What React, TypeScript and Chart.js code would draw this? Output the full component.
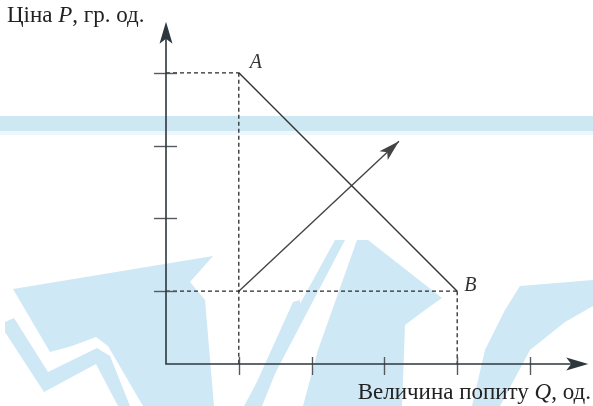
import React, { useEffect, useRef } from "react";
import { Chart, registerables } from "chart.js";

Chart.register(...registerables);

// ---- data ----
const xTicks = [1, 2, 3, 4, 5];
const yTicks = [1, 2, 3, 4];
const xAxisMax = 5.8;
const yAxisMax = 4.7;
const demandLine = [
  { x: 1, y: 4 },
  { x: 4, y: 1 },
];
const guideA_h = [
  { x: 0, y: 4 },
  { x: 1, y: 4 },
];
const guideA_v = [
  { x: 1, y: 4 },
  { x: 1, y: 0 },
];
const guideB_h = [
  { x: 0, y: 1 },
  { x: 4, y: 1 },
];
const guideB_v = [
  { x: 4, y: 1 },
  { x: 4, y: 0 },
];
const shiftArrow = [
  { x: 1, y: 1 },
  { x: 3.2, y: 3.06 },
];
const pointLabels = [
  { text: "A", x: 1, y: 4 },
  { text: "B", x: 4, y: 1 },
];
const yTitleParts: [string, boolean][] = [
  ["Ціна ", false],
  ["P", true],
  [", гр. од.", false],
];
const xTitleParts: [string, boolean][] = [
  ["Величина попиту ", false],
  ["Q", true],
  [", од.", false],
];

const W = 593;
const H = 406;
const INK = "#333333";
const AXIS = "#2e373d";
const TICK = "#555a5e";
const FONT = '"Liberation Serif", "Times New Roman", serif';
const FS = 23;

// decorative watermark shapes (background only)
const wmBlue = "rgba(206,232,245,1)";
const wmPolys: number[][][] = [
  [[13, 289], [213, 256], [190, 282], [205, 300], [214, 406], [143, 406], [108, 346], [96, 337], [72, 346], [50, 352]],
  [[5, 322], [14, 318], [48, 372], [97, 348], [110, 356], [130, 406], [118, 406], [96, 364], [44, 392], [5, 332]],
  [[357, 240], [368, 240], [442, 298], [425, 310], [405, 325], [402, 406], [303, 406], [318, 350]],
  [[335, 240], [345, 240], [258, 406], [244, 406]],
  [[293, 302], [300, 300], [300, 312], [262, 406], [246, 406]],
  [[520, 286], [593, 280], [593, 306], [565, 322], [530, 350], [500, 406], [472, 406], [485, 350], [505, 310]],
];

function arrowHead(ctx: CanvasRenderingContext2D, x: number, y: number, angle: number, len: number, half: number, notch: number) {
  ctx.save();
  ctx.translate(x, y);
  ctx.rotate(angle);
  ctx.beginPath();
  ctx.moveTo(0, 0);
  ctx.lineTo(-len, -half);
  ctx.lineTo(-len + notch, 0);
  ctx.lineTo(-len, half);
  ctx.closePath();
  ctx.fill();
  ctx.restore();
}

function mixedText(ctx: CanvasRenderingContext2D, parts: [string, boolean][], x: number, y: number, align: "left" | "right") {
  const fonts = parts.map(([, it]) => (it ? `italic ${FS}px ${FONT}` : `${FS}px ${FONT}`));
  const widths = parts.map(([t], i) => {
    ctx.font = fonts[i];
    return ctx.measureText(t).width;
  });
  const total = widths.reduce((a, b) => a + b, 0);
  let cx = align === "left" ? x : x - total;
  ctx.textAlign = "left";
  ctx.textBaseline = "alphabetic";
  parts.forEach(([t], i) => {
    ctx.font = fonts[i];
    ctx.fillText(t, cx, y);
    cx += widths[i];
  });
}

const decorPlugin = {
  id: "decor",
  beforeDraw(chart: any) {
    const ctx: CanvasRenderingContext2D = chart.ctx;
    ctx.save();
    ctx.fillStyle = "#ffffff";
    ctx.fillRect(0, 0, W, H);
    ctx.fillStyle = "rgba(205,231,243,1)";
    ctx.fillRect(0, 116, W, 15);
    ctx.fillStyle = "rgba(238,247,251,1)";
    ctx.fillRect(0, 131, W, 4);
    ctx.fillStyle = wmBlue;
    wmPolys.forEach((poly) => {
      ctx.beginPath();
      poly.forEach(([px, py], i) => (i ? ctx.lineTo(px, py) : ctx.moveTo(px, py)));
      ctx.closePath();
      ctx.fill();
    });
    ctx.restore();
  },
  afterDatasetsDraw(chart: any) {
    const ctx: CanvasRenderingContext2D = chart.ctx;
    const xs = chart.scales.x;
    const ys = chart.scales.y;
    const x0 = xs.getPixelForValue(0);
    const y0 = ys.getPixelForValue(0);
    const xEnd = xs.getPixelForValue(xAxisMax);
    const yEnd = ys.getPixelForValue(yAxisMax);
    ctx.save();
    // ticks
    ctx.strokeStyle = TICK;
    ctx.lineWidth = 1.4;
    yTicks.forEach((v) => {
      const py = Math.round(ys.getPixelForValue(v)) + 0.5;
      ctx.beginPath();
      ctx.moveTo(x0 - 12, py);
      ctx.lineTo(x0 + 11, py);
      ctx.stroke();
    });
    xTicks.forEach((v) => {
      const px = Math.round(xs.getPixelForValue(v)) + 0.5;
      ctx.beginPath();
      ctx.moveTo(px, y0 - 7);
      ctx.lineTo(px, y0 + 11);
      ctx.stroke();
    });
    // axes
    ctx.strokeStyle = AXIS;
    ctx.lineWidth = 1.6;
    ctx.beginPath();
    ctx.moveTo(x0, yEnd + 10);
    ctx.lineTo(x0, y0);
    ctx.lineTo(xEnd - 10, y0);
    ctx.stroke();
    ctx.fillStyle = AXIS;
    arrowHead(ctx, x0, yEnd, -Math.PI / 2, 22, 6.5, 5);
    arrowHead(ctx, xEnd, y0, 0, 22, 6.5, 5);
    // shift arrow head
    const s0 = shiftArrow[0];
    const s1 = shiftArrow[shiftArrow.length - 1];
    const ax0 = xs.getPixelForValue(s0.x);
    const ay0 = ys.getPixelForValue(s0.y);
    const ax1 = xs.getPixelForValue(s1.x);
    const ay1 = ys.getPixelForValue(s1.y);
    ctx.fillStyle = "#444444";
    arrowHead(ctx, ax1, ay1, Math.atan2(ay1 - ay0, ax1 - ax0), 21, 6, 5);
    // point labels
    ctx.fillStyle = "#333333";
    ctx.font = `italic 20px ${FONT}`;
    ctx.textAlign = "left";
    ctx.textBaseline = "alphabetic";
    const a = pointLabels[0];
    ctx.fillText(a.text, xs.getPixelForValue(a.x) + 11, ys.getPixelForValue(a.y) - 5);
    const b = pointLabels[1];
    ctx.fillText(b.text, xs.getPixelForValue(b.x) + 7, ys.getPixelForValue(b.y) + 0);
    // axis titles
    ctx.fillStyle = "#222222";
    mixedText(ctx, yTitleParts, 7, 22, "left");
    mixedText(ctx, xTitleParts, 591, 399, "right");
    ctx.restore();
  },
};

export default function App() {
  const ref = useRef<HTMLCanvasElement | null>(null);
  useEffect(() => {
    if (!ref.current) return;
    const unit = 72.8;
    const left = 166;
    const bottomY = 364;
    const solid = { borderColor: INK, borderWidth: 1.4, pointRadius: 0, showLine: true, fill: false };
    const dashed = { borderColor: "#2a2a2a", borderWidth: 1.3, borderDash: [4, 3], pointRadius: 0, showLine: true, fill: false };
    const chart = new Chart(ref.current, {
      type: "scatter",
      data: {
        datasets: [
          { ...dashed, data: guideA_h },
          { ...dashed, data: guideA_v },
          { ...dashed, data: guideB_h },
          { ...dashed, data: guideB_v },
          { ...solid, data: demandLine },
          { ...solid, borderColor: "#444444", data: shiftArrow },
        ] as any,
      },
      options: {
        responsive: false,
        animation: false,
        devicePixelRatio: 1,
        layout: {
          padding: {
            left,
            right: W - left - unit * xAxisMax,
            top: bottomY - unit * yAxisMax,
            bottom: H - bottomY,
          },
        },
        plugins: { legend: { display: false }, tooltip: { enabled: false } },
        scales: {
          x: { type: "linear", display: false, min: 0, max: xAxisMax },
          y: { type: "linear", display: false, min: 0, max: yAxisMax },
        },
      },
      plugins: [decorPlugin],
    });
    return () => chart.destroy();
  }, []);
  return (
    <div style={{ position: "fixed", left: 0, top: 0, width: W, height: H, background: "#fff" }}>
      <canvas ref={ref} width={W} height={H} style={{ width: W, height: H, display: "block" }} />
    </div>
  );
}
